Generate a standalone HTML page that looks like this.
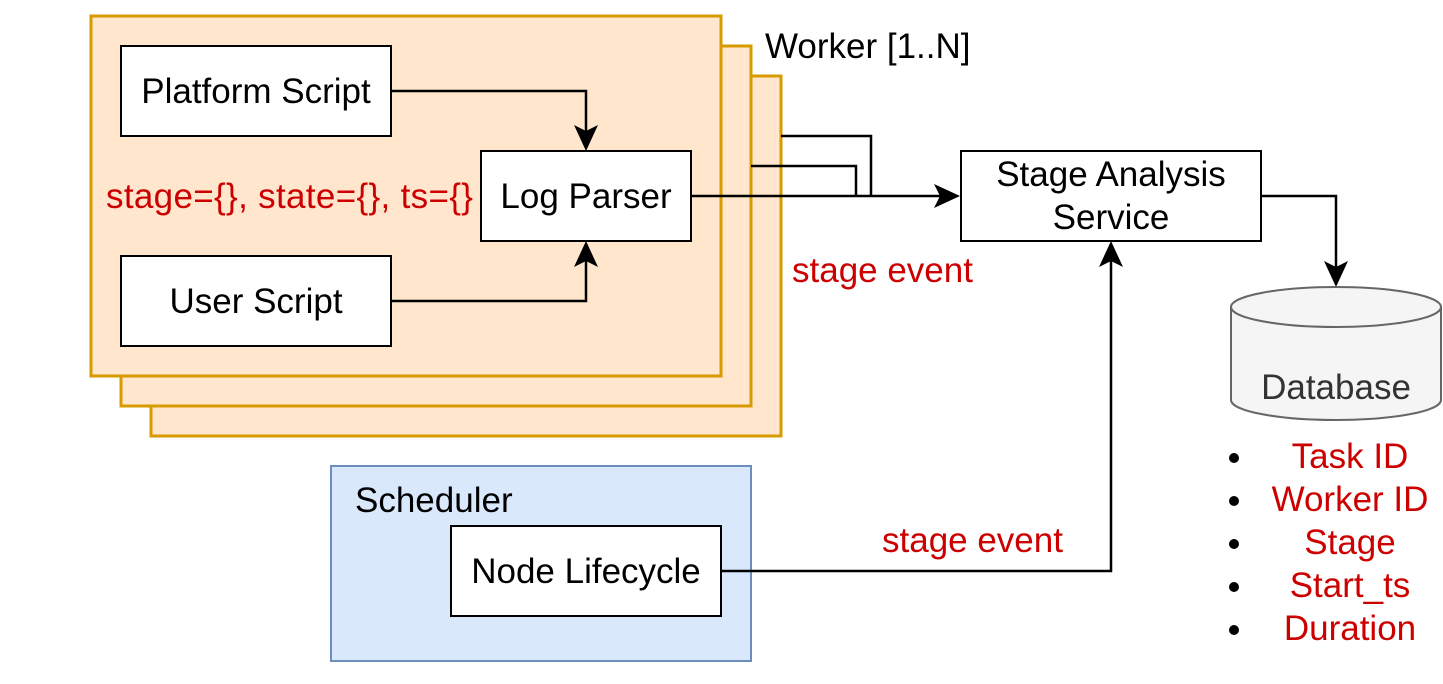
<!DOCTYPE html>
<html><head><style>body{margin:0;background:#fff}svg{display:block}text{font-family:"Liberation Sans",Arial,sans-serif}</style></head><body>
<svg width="1443" height="684" viewBox="0 0 1443 684" xmlns="http://www.w3.org/2000/svg">
<g fill="#ffe6cc" stroke="#d79b00" stroke-width="3">
<rect x="151" y="76" width="630" height="360"/>
<rect x="121" y="46" width="630" height="360"/>
<rect x="91" y="16" width="630" height="360"/>
</g>
<text x="765" y="58" font-size="35">Worker [1..N]</text>
<rect x="331" y="466" width="420" height="195" fill="#dae8fc" stroke="#6c8ebf" stroke-width="2"/>
<text x="355" y="512" font-size="35">Scheduler</text>
<g fill="none" stroke="#000" stroke-width="2.5">
<path d="M391,91 H586 V142"/>
<path d="M391,301 H586 V250"/>
<path d="M751,166 H856 V196"/>
<path d="M781,136 H871 V196"/>
<path d="M691,196 H952"/>
<path d="M1261,196 H1336 V278"/>
<path d="M721,571 H1111 V250"/>
</g>
<g fill="#fff" stroke="#000" stroke-width="2">
<rect x="121" y="46" width="270" height="90"/>
<rect x="121" y="256" width="270" height="90"/>
<rect x="481" y="151" width="210" height="90"/>
<rect x="961" y="151" width="300" height="90"/>
<rect x="451" y="526" width="270" height="90"/>
</g>
<g font-size="35" text-anchor="middle">
<text x="256" y="103">Platform Script</text>
<text x="256" y="313">User Script</text>
<text x="586" y="208">Log Parser</text>
<text x="1111" y="186">Stage Analysis</text>
<text x="1111" y="229">Service</text>
<text x="586" y="583">Node Lifecycle</text>
</g>
<text x="106" y="208" font-size="35" fill="#cc0000" textLength="367">stage={}, state={}, ts={}</text>
<g fill="#000">
<path d="M960,196 L934,184 L940,196 L934,208 z"/>
<path d="M586,151 L574,125 L586,131 L598,125 z"/>
<path d="M586,241 L574,267 L586,261 L598,267 z"/>
<path d="M1336,287 L1324,261 L1336,267 L1348,261 z"/>
<path d="M1111,241 L1099,267 L1111,261 L1123,267 z"/>
</g>
<text x="792" y="282" font-size="35" fill="#cc0000">stage event</text>
<text x="882" y="552" font-size="35" fill="#cc0000">stage event</text>
<path d="M1231,307 V400 A105,20 0 0 0 1441,400 V307 A105,20 0 0 0 1231,307 A105,20 0 0 0 1441,307" fill="#f5f5f5" stroke="#666" stroke-width="2"/>
<text x="1336" y="399" font-size="35" fill="#333" text-anchor="middle">Database</text>
<g fill="#000"><circle cx="1234" cy="458" r="5"/><circle cx="1234" cy="501" r="5"/><circle cx="1234" cy="544" r="5"/><circle cx="1234" cy="587" r="5"/><circle cx="1234" cy="630" r="5"/></g>
<g font-size="35" fill="#cc0000" text-anchor="middle">
<text x="1350" y="468">Task ID</text>
<text x="1350" y="511">Worker ID</text>
<text x="1350" y="554">Stage</text>
<text x="1350" y="597">Start_ts</text>
<text x="1350" y="640">Duration</text>
</g>
</svg>
</body></html>
